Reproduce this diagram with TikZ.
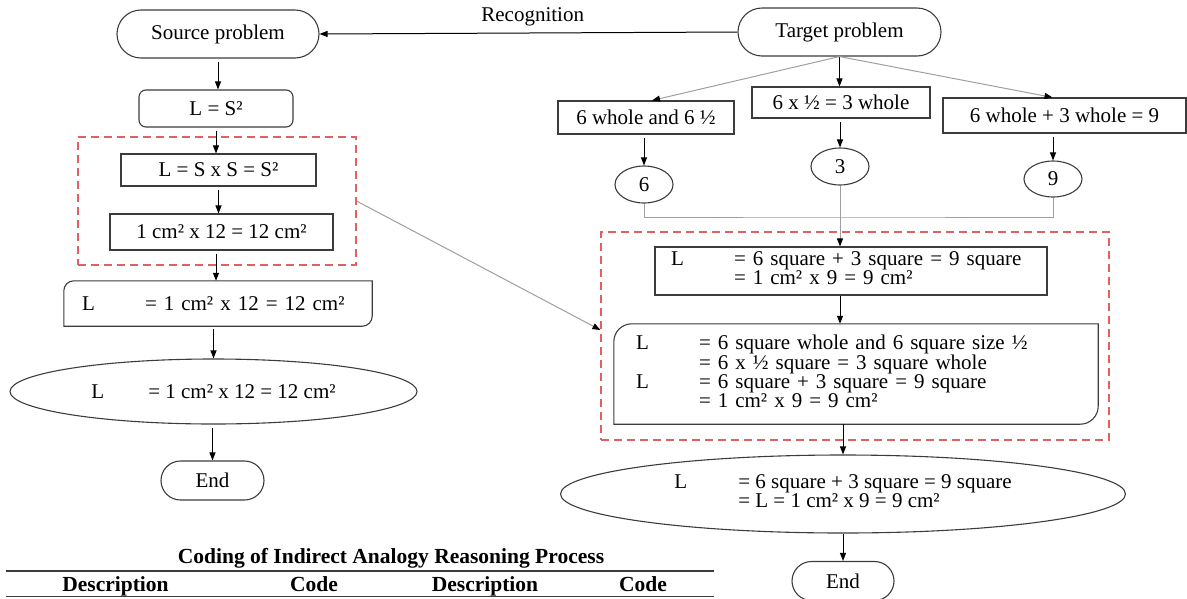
\documentclass[tikz,border=0pt]{standalone}
\usepackage{fontspec}
\setmainfont{Liberation Serif}
\usetikzlibrary{arrows.meta,shapes.geometric,shapes.misc}
\definecolor{dashred}{RGB}{226,96,96}
\definecolor{edge}{RGB}{60,60,60}

\tikzset{
  every node/.style={font=\fontsize{21}{18}\selectfont, inner sep=0pt},
  pill/.style={rounded rectangle, draw=edge, line width=1.1pt},
  rbox/.style={rectangle, rounded corners=7pt, draw=edge, line width=1.1pt},
  box/.style={rectangle, draw=edge, line width=1.1pt},
  oval/.style={ellipse, draw=edge, line width=1.1pt},
  group/.style={draw=dashred, dash pattern=on 8pt off 5pt, line width=1.1pt},
  border/.style={draw=edge, line width=1.1pt},
  flow/.style={-{Triangle[length=8pt,width=6pt]}, line width=1pt, shorten <=3pt},
  grayline/.style={gray!75, line width=1pt},
  grayflow/.style={grayline, -{Triangle[length=8pt,width=6pt,color=black]}},
  head/.style={font=\fontsize{21.5}{24}\selectfont\bfseries, anchor=base},
}

\begin{document}
\begin{tikzpicture}[x=1pt,y=1pt]
\useasboundingbox (0,0) rectangle (1187,-598);

% Source side
\node[pill, minimum width=202, minimum height=48] (src) at (218,-34) {Source problem};
\node[rbox, minimum width=154, minimum height=37] (sq) at (216,-108.5) {L = S²};
\node[box, minimum width=195, minimum height=32] (sxs) at (218.5,-170) {L = S x S = S²};
\node[box, minimum width=223, minimum height=36] (cm12) at (221.5,-232) {1 cm² x 12 = 12 cm²};
\node[minimum width=308, minimum height=45, text width=272, align=left] (res1) at (218,-303.5) {\makebox[63pt][l]{L}= 1 cm² x 12 = 12 cm²};
\node[oval, minimum width=407, minimum height=65] (ans1) at (213.5,-391.5) {\makebox[57pt][l]{L}= 1 cm² x 12 = 12 cm²};
\node[pill, minimum width=103, minimum height=39] (end1) at (212.5,-480.5) {End};
\node[group, minimum width=278, minimum height=128] (grpL) at (217,-201) {};

% Target side
\node[pill, minimum width=203, minimum height=48] (tgt) at (839.5,-32) {Target problem};
\node[box, minimum width=176, minimum height=33] (whole) at (646,-117.5) {6 whole and 6 ½};
\node[box, minimum width=178, minimum height=31] (half) at (841,-102.5) {6 x ½ = 3 whole};
\node[box, minimum width=243, minimum height=35] (sum) at (1064.5,-115.5) {6 whole + 3 whole = 9};
\node[oval, minimum width=58, minimum height=37] (six) at (644,-184.5) {6};
\node[oval, minimum width=58, minimum height=37] (three) at (840,-166.5) {3};
\node[oval, minimum width=58, minimum height=36] (nine) at (1053,-179) {9};
\coordinate (join) at (840,-217);

\node[box, minimum width=392, minimum height=48, text width=360, align=left] (sq9) at (851,-271)
  {\begin{tabular}{@{}p{63pt}@{}l@{}}L & = 6 square + 3 square = 9 square\\ & = 1 cm² x 9 = 9 cm²\end{tabular}};
\node[minimum width=484, minimum height=100, text width=440, align=left] (steps) at (856,-374)
  {\begin{tabular}{@{}p{63pt}@{}l@{}}L & = 6 square whole and 6 square size ½\\ & = 6 x ½ square = 3 square whole\\
   L & = 6 square + 3 square = 9 square\\ & = 1 cm² x 9 = 9 cm²\end{tabular}};
\node[oval, minimum width=565, minimum height=78] (ans2) at (843,-494)
  {\begin{tabular}{@{}p{64pt}@{}l@{}}L & = 6 square + 3 square = 9 square\\ & = L = 1 cm² x 9 = 9 cm²\end{tabular}};
\node[pill, minimum width=102, minimum height=39] (end2) at (843,-581) {End};
\node[group, minimum width=508, minimum height=208] (grpR) at (855,-336) {};

% boxes with two round corners
\draw[border] (res1.north east) -- ([yshift=10pt]res1.south east) arc[start angle=0, end angle=-90, radius=10pt]
  -- (res1.south west) -- ([yshift=-10pt]res1.north west) arc[start angle=180, end angle=90, radius=10pt] -- cycle;
\draw[border] (steps.north east) -- ([yshift=18pt]steps.south east) arc[start angle=0, end angle=-90, radius=18pt]
  -- (steps.south west) -- ([yshift=-18pt]steps.north west) arc[start angle=180, end angle=90, radius=18pt] -- cycle;

\draw[flow, shorten <=0pt] (tgt.west) -- node[above=6pt, pos=0.49] (recog) {Recognition} (src.east);

\draw[flow] (src.south) -- (src.south |- sq.north);
\draw[flow] (sq.south) -- (sq.south |- sxs.north);
\draw[flow] (sxs.south) -- (sxs.south |- cm12.north);
\draw[flow] (sq.south |- cm12.south) -- (sq.south |- res1.north);
\draw[flow] (ans1.north |- res1.south) -- (ans1.north);
\draw[flow] (end1 |- ans1.south) -- (end1.north);

\draw[flow, shorten <=0pt] (tgt.south) -- (tgt.south |- half.north);
\draw[grayflow] (tgt.south) -- ([xshift=6pt]whole.north);
\draw[grayflow] (tgt.south) -- ([xshift=-12pt]sum.north);
\draw[flow] (six |- whole.south) -- (six.north);
\draw[flow] (three |- half.south) -- (three.north);
\draw[flow] (nine |- sum.south) -- (nine.north);
\draw[grayline] (six.south) |- (join) -| (nine.south);
\draw[grayflow] (three.south) -- (three |- sq9.north);
\draw[flow, shorten <=0pt] (three |- sq9.south) -- (three |- steps.north);
\draw[flow, shorten <=0pt] (end2 |- steps.south) -- (end2 |- ans2.north);
\draw[flow, shorten <=0pt] (end2 |- ans2.south) -- (end2.north);

\draw[grayflow] (grpL.east) -- ([yshift=6pt]grpR.west);

% table head
\node[head] (title) at (391,-563) {Coding of Indirect Analogy Reasoning Process};
\node[head] (desc1) at (115.5,-591) {Description};
\node[head] (code1) at (314,-591) {Code};
\node[head] (desc2) at (485,-591) {Description};
\node[head] (code2) at (643,-591) {Code};
\draw[edge, line width=1.3pt] (6,-571) -- (714,-571);
\draw[edge, line width=1.3pt] (6,-596.5) -- (714,-596.5);
\end{tikzpicture}
\end{document}
